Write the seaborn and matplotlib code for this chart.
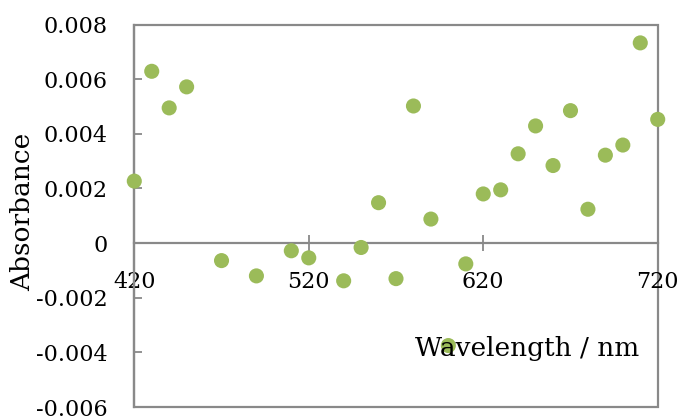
import numpy as np
import pandas as pd
import matplotlib
matplotlib.use("Agg")
import matplotlib.pyplot as plt
from matplotlib.ticker import FixedLocator, FuncFormatter
import seaborn as sns

# Measured absorbance spectrum (difference), nm vs absorbance
wavelength = [420, 430, 440, 450, 470, 490, 510, 520, 540, 550, 560, 570,
              580, 590, 600, 610, 620, 630, 640, 650, 660, 670, 680, 690,
              700, 710, 720]
absorbance = [0.00227, 0.00629, 0.00495, 0.00572, -0.00064, -0.00120,
              -0.00028, -0.00054, -0.00138, -0.00016, 0.00148, -0.00130,
              0.00502, 0.00088, -0.00375, -0.00076, 0.00180, 0.00195,
              0.00327, 0.00429, 0.00284, 0.00485, 0.00124, 0.00322,
              0.00359, 0.00733, 0.00453]

x_ticks = [420, 520, 620, 720]
y_ticks = [-0.006, -0.004, -0.002, 0, 0.002, 0.004, 0.006, 0.008]

df = pd.DataFrame({"Wavelength": wavelength, "Absorbance": absorbance})

sns.set_style("white")
plt.rcParams["font.family"] = ["DejaVu Serif"]
plt.rcParams["axes.unicode_minus"] = False
plt.rcParams["text.color"] = "black"
plt.rcParams["axes.labelcolor"] = "black"
plt.rcParams["xtick.labelcolor"] = "black"
plt.rcParams["ytick.labelcolor"] = "black"

frame_color = "#898989"
point_color = "#9BBB59"

fig = plt.figure(figsize=(6.82, 4.16), dpi=100)
ax = fig.add_axes([0.1969, 0.0216, 0.9644 - 0.1969, 0.9409 - 0.0216])

sns.scatterplot(data=df, x="Wavelength", y="Absorbance", ax=ax,
                color=point_color, s=118, edgecolor="none", linewidth=0,
                clip_on=False, zorder=5, legend=False)

ax.set_xlim(420, 720)
ax.set_ylim(-0.006, 0.008)

# Plot-area border
ax.patch.set_edgecolor(frame_color)
ax.patch.set_linewidth(1.6)
for side in ("top", "right"):
    ax.spines[side].set_visible(False)
ax.spines["left"].set_color(frame_color)
ax.spines["left"].set_linewidth(1.6)

# Horizontal axis crosses at zero absorbance
ax.spines["bottom"].set_position(("data", 0))
ax.spines["bottom"].set_color(frame_color)
ax.spines["bottom"].set_linewidth(1.6)

ax.xaxis.set_major_locator(FixedLocator(x_ticks))
ax.yaxis.set_major_locator(FixedLocator(y_ticks))
ax.yaxis.set_major_formatter(
    FuncFormatter(lambda v, _: "0" if abs(v) < 1e-12 else f"{v:.3f}"))

ax.tick_params(axis="x", direction="inout", length=12, width=1.3,
               color=frame_color, labelcolor="black", labelsize=16, pad=14)
ax.tick_params(axis="y", direction="in", length=6, width=1.3,
               color=frame_color, labelcolor="black", labelsize=16, pad=19)
ax.tick_params(left=True, bottom=True)

ax.set_xlabel("")
ax.set_ylabel("Absorbance", fontsize=19, labelpad=0, color="black")
ax.yaxis.set_label_coords(-0.19, 0.51)
ax.text(0.75, 0.154, "Wavelength / nm", transform=ax.transAxes,
        ha="center", va="center", fontsize=19, color="black", zorder=10)

fig.savefig("out.png", dpi=100)
